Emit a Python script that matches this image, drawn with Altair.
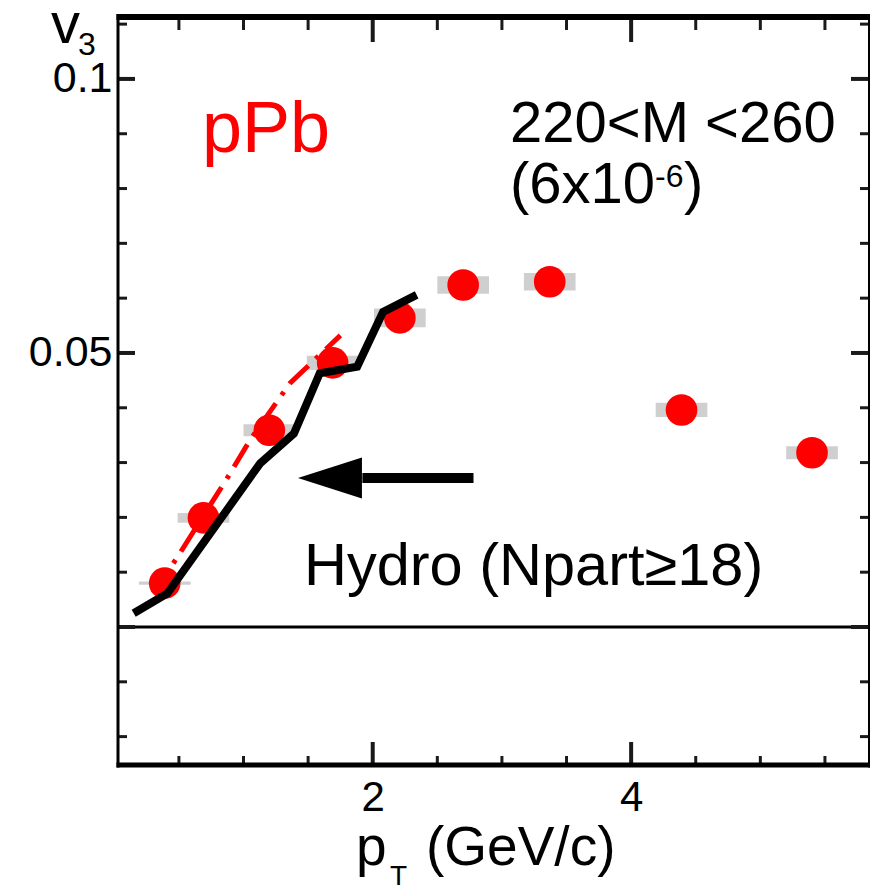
import altair as alt
import pandas as pd

FONT = "Liberation Sans"

# ---- data ----
pt = [0.39, 0.69, 1.20, 1.69, 2.21, 2.70, 3.37, 4.39, 5.40]
v3 = [0.0080, 0.0199, 0.0359, 0.0482, 0.0564, 0.0624, 0.0630, 0.0396, 0.0318]
v3_sys = [0.0003, 0.0009, 0.0011, 0.0013, 0.0017, 0.0016, 0.0016, 0.0013, 0.0012]
pt_sys = [0.2, 0.2, 0.2, 0.2, 0.2, 0.2, 0.2, 0.2, 0.2]

hydro_pt = [0.15, 0.41, 1.13, 1.39, 1.59, 1.88, 2.08, 2.34]
hydro_v3 = [0.0025, 0.0061, 0.0299, 0.0353, 0.0463, 0.0475, 0.0575, 0.0606]

hydro2_pt = [0.30, 0.49, 0.77, 0.87, 1.05, 1.36, 1.75]
hydro2_v3 = [0.0062, 0.0128, 0.0233, 0.0270, 0.0341, 0.0445, 0.0532]

arrow_pt = [1.92, 2.78]
arrow_head_pt = [1.669]
arrow_v3 = [0.0272]

x_major = [2, 4]
x_minor = [0.5, 1.0, 1.5, 2.5, 3.0, 3.5, 4.5, 5.0, 5.5]
y_major = [0.0, 0.05, 0.1]
y_minor = [-0.02, -0.01, 0.01, 0.02, 0.03, 0.04, 0.06, 0.07, 0.08, 0.09, 0.11]
x_labels = [2, 4]
y_labels = [0.05, 0.1]

W, H = 751, 748

xs = alt.Scale(domain=[0.0286, 5.841], nice=False, zero=False)
ys = alt.Scale(domain=[-0.02518, 0.1113], nice=False, zero=False)

xax = alt.Axis(values=x_labels, format="d", labelFontSize=42, labelFont=FONT,
               labelColor="black", ticks=False, tickSize=0, domain=False, grid=False,
               labelPadding=12, title=None, labelFlush=False)
yax = alt.Axis(values=y_labels, format="~g", labelFontSize=43, labelFont=FONT,
               labelColor="black", ticks=False, tickSize=0, domain=False, grid=False,
               labelPadding=6, title=None, labelFlush=False)


def X(f):
    return alt.X(f, type="quantitative", scale=xs, axis=xax)


def Y(f):
    return alt.Y(f, type="quantitative", scale=ys, axis=yax)


pts = pd.DataFrame({"pt": pt, "v3": v3})
pts["x1"] = [a - b for a, b in zip(pt, pt_sys)]
pts["x2"] = [a + b for a, b in zip(pt, pt_sys)]
pts["y1"] = [a - b for a, b in zip(v3, v3_sys)]
pts["y2"] = [a + b for a, b in zip(v3, v3_sys)]

hyd = pd.DataFrame({"pt": hydro_pt, "v3": hydro_v3, "i": range(len(hydro_pt))})
hyd2 = pd.DataFrame({"pt": hydro2_pt, "v3": hydro2_v3, "i": range(len(hydro2_pt))})
one = pd.DataFrame({"a": [0]})

boxes = alt.Chart(pts).mark_rect(color="#cfcfcf").encode(
    x=X("x1"), x2="x2", y=Y("y1"), y2="y2")
circles = alt.Chart(pts).mark_point(filled=True, color="#ff0000", opacity=1, size=1000,
                                    strokeWidth=0).encode(x=X("pt"), y=Y("v3"))
dashline = alt.Chart(hyd2).mark_line(color="#ff0000", strokeWidth=5,
                                     strokeDash=[26, 10, 4, 10]).encode(
    x=X("pt"), y=Y("v3"), order="i")
hydline = alt.Chart(hyd).mark_line(color="black", strokeWidth=8).encode(
    x=X("pt"), y=Y("v3"), order="i")

zero = alt.Chart(one).mark_rule(color="black", strokeWidth=3).encode(
    y=alt.Y("zero:Q", scale=ys, axis=yax)).transform_calculate(zero="0")

arr_df = pd.DataFrame({"x1": [arrow_pt[0]], "x2": [arrow_pt[1]], "y": arrow_v3})
shaft = alt.Chart(arr_df).mark_rule(color="black", strokeWidth=10).encode(
    x=X("x1"), x2="x2", y=Y("y"))
head = alt.Chart(pd.DataFrame({"x": arrow_head_pt, "y": arrow_v3})).mark_point(
    shape="M -1 0 L 1 -0.64 L 1 0.64 Z", filled=True, color="black", opacity=1,
    size=4096, strokeWidth=0).encode(x=X("x"), y=Y("y"))


def ticks_x(vals, length, top):
    df = pd.DataFrame({"t": vals})
    if top:
        enc = dict(y=alt.value(0), y2=alt.value(length))
    else:
        enc = dict(y=alt.value(H), y2=alt.value(H - length))
    return alt.Chart(df).mark_rule(color="#1a1a1a", strokeWidth=4 if length > 15 else 3).encode(
        x=X("t"), **enc)


def ticks_y(vals, length, right):
    df = pd.DataFrame({"t": vals})
    if right:
        enc = dict(x=alt.value(W), x2=alt.value(W - length))
    else:
        enc = dict(x=alt.value(0), x2=alt.value(length))
    return alt.Chart(df).mark_rule(color="#1a1a1a", strokeWidth=4 if length > 15 else 3).encode(
        y=Y("t"), **enc)


tick_layers = [
    ticks_x(x_major, 23, False), ticks_x(x_minor, 9, False),
    ticks_x(x_major, 25, True), ticks_x(x_minor, 13, True),
    ticks_y(y_major, 17, False), ticks_y(y_minor, 9, False),
    ticks_y(y_major, 18, True), ticks_y(y_minor, 9, True),
]


def frame(x, x2, y, y2, w):
    return alt.Chart(one).mark_rule(color="black", strokeWidth=w).encode(
        x=alt.value(x), x2=alt.value(x2), y=alt.value(y), y2=alt.value(y2))


frames = [
    frame(-1.5, W + 1, 0, 0, 6),
    frame(-1.5, W + 1, H, H, 5),
    frame(0, 0, -3, H + 2.5, 3),
    frame(W, W, -3, H + 2.5, 2),
]


def txt(s, x, y, size, color="black", align="left"):
    return alt.Chart(one).mark_text(text=s, font=FONT, fontSize=size, color=color,
                                    align=align, baseline="alphabetic").encode(
        x=alt.value(x), y=alt.value(y))


texts = [
    txt("pPb", 84, 135, 72, color="#ff0000"),
    txt("220<M <260", 392, 125, 58),
    txt("(6x10", 392, 186, 58),
    txt("-6", 537, 170, 32),
    txt(")", 566, 186, 58),
    txt("Hydro (Npart\u226518)", 186, 568, 59.5),
    txt("v", -67, 26, 58),
    txt("3", -40, 38, 32),
    txt("p", 238, 848, 55),
    txt("T", 272, 868, 28),
    txt("(GeV/c)", 308, 848, 55),
]

chart = alt.layer(
    boxes, circles, dashline, hydline, zero, shaft, head,
    *tick_layers, *frames, *texts
).properties(
    width=W, height=H,
    padding={"left": 118, "top": 17, "right": 3, "bottom": 123},
    autosize=alt.AutoSizeParams(type="none"),
    background="white",
).configure_view(stroke=None)

chart.save("out.html", embed_options={"renderer": "svg", "actions": False})
